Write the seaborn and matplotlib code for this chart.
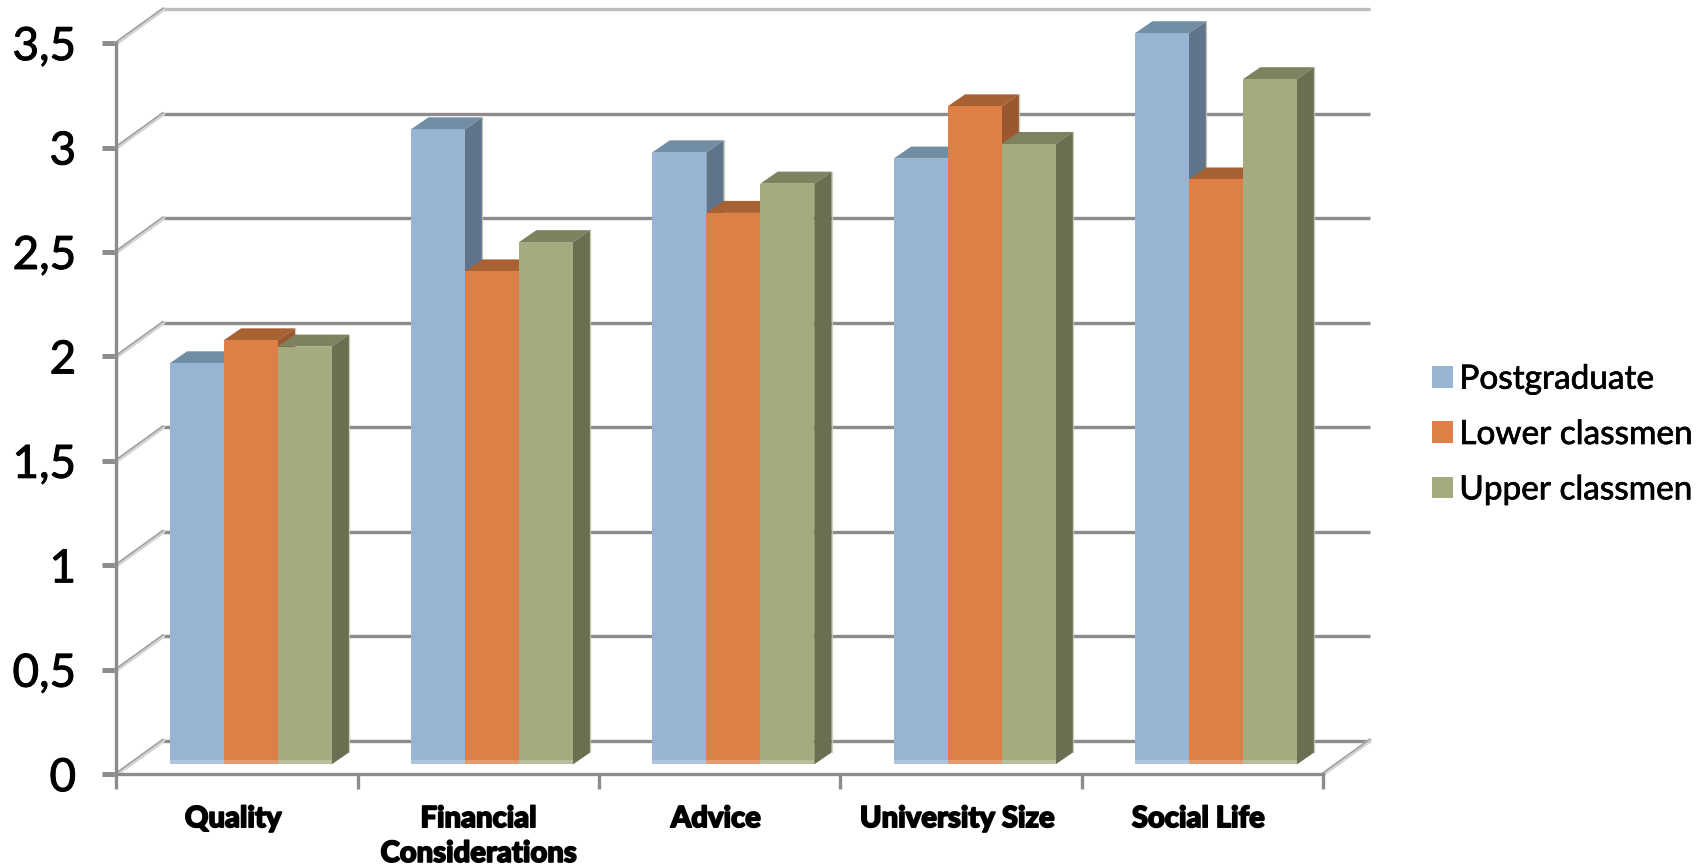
import matplotlib
matplotlib.use("Agg")
import matplotlib.pyplot as plt
import matplotlib.patheffects as pe
from matplotlib.patches import Polygon, Rectangle
from matplotlib.transforms import ScaledTranslation
import pandas as pd
import seaborn as sns

categories = ["Quality", "Financial\nConsiderations", "Advice", "University Size", "Social Life"]
groups = ["Postgraduate", "Lower classmen", "Upper classmen"]
postgraduate = [1.92, 3.04, 2.93, 2.90, 3.50]
lower_classmen = [2.03, 2.36, 2.64, 3.15, 2.80]
upper_classmen = [2.00, 2.50, 2.78, 2.97, 3.28]
y_ticks = [0, 0.5, 1, 1.5, 2, 2.5, 3, 3.5]
y_tick_labels = ["0", "0,5", "1", "1,5", "2", "2,5", "3", "3,5"]

front_colors = ["#97B5D3", "#DE7F47", "#A5AB7F"]
side_colors = ["#60758B", "#9A5730", "#6B6E50"]
top_colors = ["#728EA5", "#A86133", "#7F825F"]
GRID = "#8C8C8C"

W, H, DPI = 1705, 867, 100
sns.set_theme(style="white")
plt.rcParams["font.family"] = ["Lato", "DejaVu Sans"]

records = [
    {"category": c, "group": g, "value": v}
    for g, vals in zip(groups, [postgraduate, lower_classmen, upper_classmen])
    for c, v in zip(categories, vals)
]
df = pd.DataFrame(records)

fig = plt.figure(figsize=(W / DPI, H / DPI), dpi=DPI, facecolor="white")

# Front plane of the box: pixel extents of the value axis and the category axis
left, right = 116.4, 1323.0
zero_y, unit_px = 774.2, 208.9
rect = [left / W, 1 - zero_y / H, (right - left) / W, 3.5 * unit_px / H]
ax = fig.add_axes(rect, zorder=1)
ax.set_xlim(-0.5, 4.5)
ax.set_ylim(0, 3.5)
ax.patch.set_visible(False)

cat_px = (right - left) / 5
wall_dx, wall_dy = 46.8 / cat_px, 33.7 / unit_px      # depth of the box
bar_dx, bar_dy = 17.4 / cat_px, 12.0 / unit_px        # depth of a single bar

# Back wall gridlines and the slanted side-wall lines joining them to the axis
for v in y_ticks:
    ax.plot([-0.5 + wall_dx, 4.5 + wall_dx], [v + wall_dy] * 2, color="#BDBDBD" if v == 3.5 else GRID,
            lw=2.4, clip_on=False, solid_capstyle="butt", zorder=1)
    ax.plot([-0.5, -0.5 + wall_dx], [v, v + wall_dy], color="#D2D2D2", lw=3.0, clip_on=False, zorder=1)
    ax.plot([-0.5, -0.5 + wall_dx], [v + 0.006, v + wall_dy + 0.006], color="#9A9A9A", lw=0.9,
            clip_on=False, zorder=1.1)
ax.plot([4.5, 4.5 + wall_dx], [0, wall_dy], color="#D2D2D2", lw=3.0, clip_on=False, zorder=1)
ax.plot([4.5, 4.5 + wall_dx], [0.006, wall_dy + 0.006], color="#9A9A9A", lw=0.9, clip_on=False, zorder=1.1)

for name in ["top", "right"]:
    ax.spines[name].set_visible(False)
for name in ["left", "bottom"]:
    ax.spines[name].set_color(GRID)
    ax.spines[name].set_linewidth(2.4)

ax.set_yticks(y_ticks, y_tick_labels)
ax.tick_params(axis="y", length=10, width=3.6, color=GRID, pad=19, labelsize=33, labelcolor="black", left=True)
for lab in ax.get_yticklabels():
    lab.set_path_effects([pe.withStroke(linewidth=0.7, foreground="black")])

ax.set_xticks(range(5), categories)
ax.set_xticks([i - 0.5 for i in range(6)], minor=True)
ax.tick_params(axis="x", which="major", length=0, pad=23, labelcolor="black")
ax.tick_params(axis="x", which="minor", length=11, width=2.4, color=GRID, bottom=True)
label_nudges = [-4, 0, -4, -4, -4]
for lab, nudge in zip(ax.get_xticklabels(), label_nudges):
    lab.set_fontsize(21)
    lab.set_fontweight("black")
    lab.set_linespacing(1.42)
    lab.set_path_effects([pe.withStroke(linewidth=1.2, foreground="black")])
    lab.set_transform(lab.get_transform() + ScaledTranslation(nudge / DPI, 0, fig.dpi_scale_trans))
ax.set_xlabel("")
ax.set_ylabel("")

# Bars sit on a plane slightly behind the front edge of the floor
shift_x, shift_y = 13.6, 9.8
rect_b = [(left + shift_x) / W, 1 - (zero_y - shift_y) / H, (right - left) / W, 3.5 * unit_px / H]
ax_b = fig.add_axes(rect_b, zorder=2)
ax_b.patch.set_visible(False)
sns.barplot(data=df, x="category", y="value", hue="group", hue_order=groups, order=categories,
            palette=front_colors, width=0.671, gap=0, dodge=True, saturation=1, linewidth=0,
            errorbar=None, ax=ax_b)
ax_b.set_xlim(-0.5, 4.5)
ax_b.set_ylim(0, 3.5)
ax_b.axis("off")

# Extrude every bar: drawn left to right so nearer faces cover the earlier ones
for idx, bars in enumerate(ax_b.containers):
    base = 10 + idx * 3
    for bar in bars:
        x0, x1, h = bar.get_x(), bar.get_x() + bar.get_width(), bar.get_height()
        top = Polygon([(x0, h), (x1, h), (x1 + bar_dx, h + bar_dy), (x0 + bar_dx, h + bar_dy)],
                      closed=True, fc=top_colors[idx], ec="none", zorder=base, clip_on=False)
        side = Polygon([(x1, 0), (x1 + bar_dx, bar_dy), (x1 + bar_dx, h + bar_dy), (x1, h)],
                       closed=True, fc=side_colors[idx], ec="none", zorder=base + 1, clip_on=False)
        ax_b.add_patch(top)
        ax_b.add_patch(side)
        ax_b.plot([x1 + bar_dx] * 2, [bar_dy, h + bar_dy], color="#C4C7B2", lw=1.0, alpha=0.8,
                  zorder=base + 1, clip_on=False)
        bar.set_zorder(base + 2)
        ax_b.add_patch(Rectangle((x0, 0), x1 - x0, 0.02, fc="white", alpha=0.22, ec="none",
                                 zorder=base + 2.5, clip_on=False))

sns.move_legend(ax_b, loc="center left", bbox_to_anchor=(1432 / W, 1 - 435 / H),
                bbox_transform=fig.transFigure, frameon=False, title=None, fontsize=24,
                handlelength=0.62, handleheight=0.62, handletextpad=0.2, labelspacing=0.76,
                borderpad=0, borderaxespad=0)
for t in ax_b.get_legend().get_texts():
    t.set_color("black")
    t.set_path_effects([pe.withStroke(linewidth=0.5, foreground="black")])

fig.savefig("out.png", dpi=DPI, facecolor="white")
